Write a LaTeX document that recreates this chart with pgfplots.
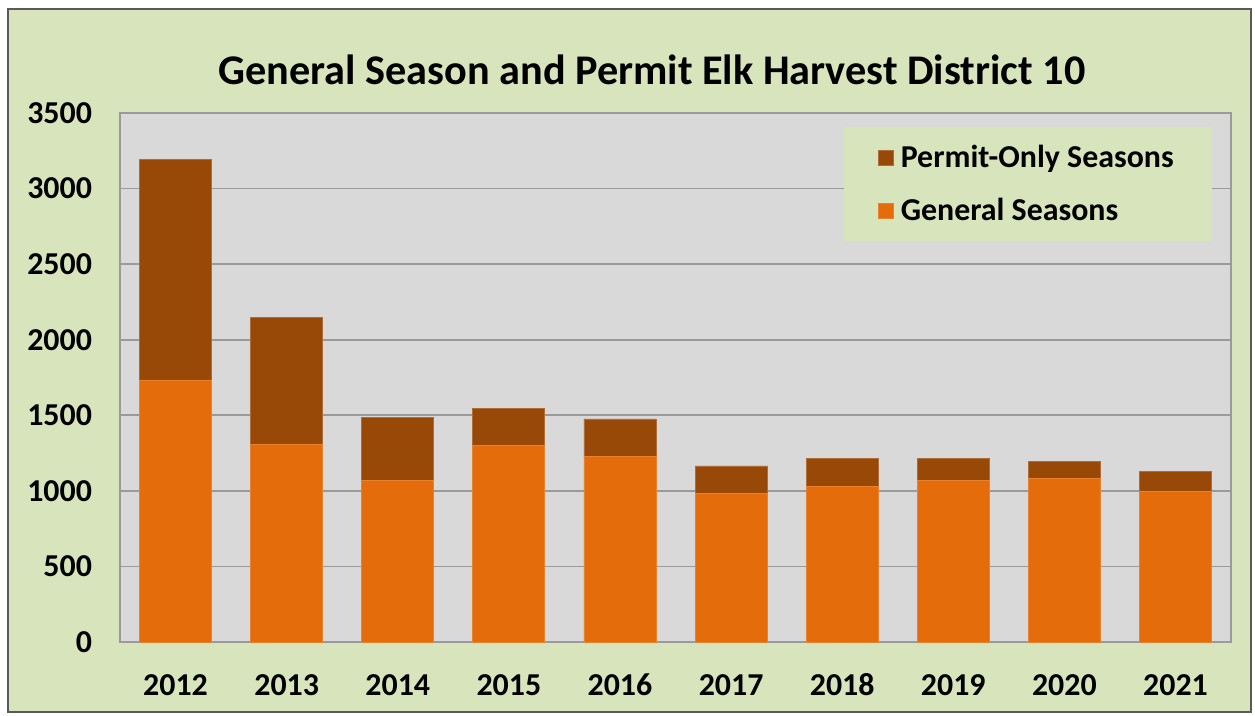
\documentclass[border=0pt]{standalone}
\usepackage{pgfplots}
\pgfplotsset{compat=1.18}
\usepackage{pgfplotstable}
\usepackage{fontspec}
\setmainfont{Carlito}
\definecolor{bggreen}{HTML}{D7E4BC}
\definecolor{plotgray}{HTML}{D9D9D9}
\definecolor{permit}{HTML}{984807}
\definecolor{general}{HTML}{E46C0A}
\definecolor{gridgray}{HTML}{9A9A9A}
\definecolor{framegray}{HTML}{5A5A5A}

\pgfplotstableread{
x year general permit
0 2012 1730 1460
1 2013 1310 840
2 2014 1070 415
3 2015 1300 245
4 2016 1225 251
5 2017 985 180
6 2018 1030 183
7 2019 1070 143
8 2020 1080 116
9 2021 995 132
}\datatable

\begin{document}
\begin{tikzpicture}[x=0.5bp,y=-0.5bp]
% page and chart background
\fill[white] (0,0) rectangle (1255,715);
\filldraw[fill=bggreen, draw=framegray, line width=0.6bp] (8,9) rectangle (1251,712);
\node[font=\fontsize{21.2}{25}\selectfont\bfseries] at (652,70) {General Season and Permit Elk Harvest District 10};
\coordinate (A) at (120,642);
\begin{axis}[
  at={(A)}, anchor=south west,
  scale only axis,
  width=555.5bp, height=264.5bp,
  xmin=-0.5, xmax=9.5,
  ymin=0, ymax=3500,
  ytick={0,500,...,3500},
  xtick=data,
  xticklabels={2012,2013,2014,2015,2016,2017,2018,2019,2020,2021},
  ybar stacked,
  bar width=36bp,
  axis background/.style={fill=plotgray},
  axis line style={draw=gridgray, line width=0.8bp},
  ymajorgrids,
  major grid style={draw=gridgray, line width=0.8bp},
  major tick length=0pt,
  /pgf/number format/assume math mode=true,
  /pgf/number format/1000 sep={},
  tick label style={font=\fontsize{16}{18}\selectfont\bfseries, text=black},
  yticklabel style={xshift=-10.5bp},
  xticklabel style={yshift=-12bp, text height=11bp, text depth=0pt},
  legend style={
    at={(0.983,0.9735)}, anchor=north east,
    fill=bggreen, draw=none,
    font=\fontsize{16}{18}\selectfont\bfseries,
    inner xsep=17bp, inner ysep=7bp,
    row sep=9.5bp,
  },
  legend cell align=left,
  reverse legend,
  legend image code/.code={\fill[#1] (0bp,-3.75bp) rectangle (7.5bp,3.75bp); \path (9bp,0bp);},
]
\addplot[fill=general, draw=general!85!white, line width=0.4bp] table[x=x, y=general] {\datatable};
\addlegendentry{General Seasons}
\addplot[fill=permit, draw=permit!80!white, line width=0.4bp] table[x=x, y=permit] {\datatable};
\addlegendentry{Permit-Only Seasons}
\end{axis}
\end{tikzpicture}
\end{document}
